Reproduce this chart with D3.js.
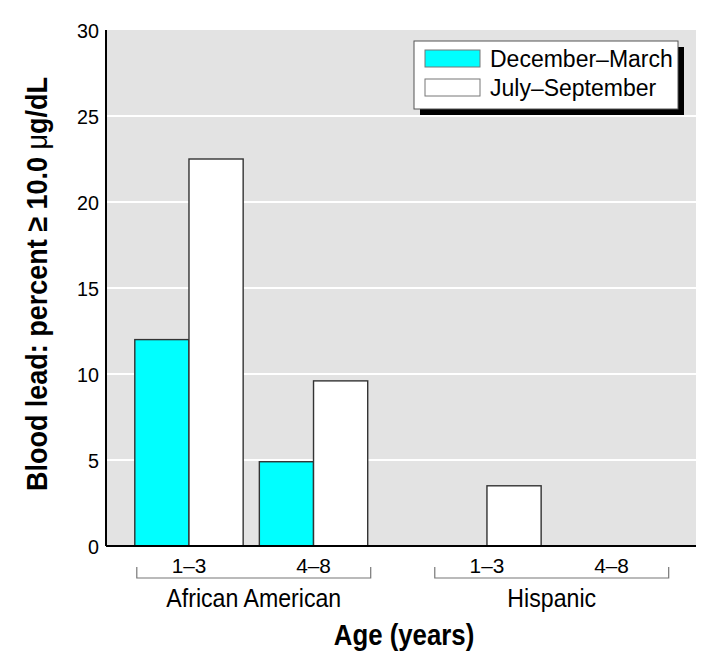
<!DOCTYPE html>
<html>
<head>
<meta charset="utf-8">
<script src="https://cdn.jsdelivr.net/npm/d3@7"></script>
<style>
  body { margin: 0; background: #fff; }
  svg text { font-family: "Liberation Sans", Arial, sans-serif; fill: #000; }
</style>
</head>
<body>
<script>
// data
var groups = ['African American', 'Hispanic']
var ages = ['1–3', '4–8']
var series = ['December–March', 'July–September']
var decMar = [12, 4.9, 0, 0]   // AA 1-3, AA 4-8, Hisp 1-3, Hisp 4-8
var julSep = [22.5, 9.6, 3.5, 0]
var yTicks = [0, 5, 10, 15, 20, 25, 30]

var colors = ['#00ffff', '#ffffff']

var width = 720
var height = 664
var margin = { top: 30, right: 24, bottom: 118, left: 106 }
var innerW = width - margin.left - margin.right
var innerH = height - margin.top - margin.bottom

var svg = d3.select('body').append('svg')
  .attr('width', width)
  .attr('height', height)

var g = svg.append('g')
  .attr('transform', 'translate(' + margin.left + ',' + margin.top + ')')

// narrow type: text drawn at origin, then placed and squeezed sideways
function label (parent, x, y, txt, size, squeeze, anchor, rotate) {
  var t = parent.append('text')
    .attr('transform', 'translate(' + x + ',' + y + ')' + (rotate ? ' rotate(' + rotate + ')' : '') + ' scale(' + squeeze + ',1)')
    .attr('text-anchor', anchor || 'middle')
    .style('font-size', size + 'px')
  if (txt) t.text(txt)
  return t
}

// rows for the bars
var rows = []
groups.forEach(function (grp, gi) {
  ages.forEach(function (age, ai) {
    var k = gi * ages.length + ai
    rows.push({ group: grp, age: age, values: [decMar[k], julSep[k]] })
  })
})

var x0 = d3.scaleBand().domain(groups).range([0, innerW])
  .paddingInner(0.215).paddingOuter(0.0975).align(0.53)
var x1 = d3.scaleBand().domain(ages).range([-2, x0.bandwidth() - 3])
  .paddingInner(0.13)
var x2 = d3.scaleBand().domain(series).range([0, x1.bandwidth()])
var y = d3.scaleLinear().domain([0, 30]).range([innerH, 0])

// plot background
g.append('rect')
  .attr('width', innerW)
  .attr('height', innerH)
  .attr('fill', '#e3e3e3')

// white grid lines
g.selectAll('line.grid')
  .data(yTicks.filter(function (d) { return d > 0 && d < 30 }))
  .enter().append('line')
  .attr('class', 'grid')
  .attr('x1', 0)
  .attr('x2', innerW)
  .attr('y1', function (d) { return y(d) })
  .attr('y2', function (d) { return y(d) })
  .attr('stroke', '#fff')
  .attr('stroke-width', 2)

// bars
var cluster = g.selectAll('g.cluster')
  .data(rows)
  .enter().append('g')
  .attr('class', 'cluster')
  .attr('transform', function (d) { return 'translate(' + (x0(d.group) + x1(d.age)) + ',0)' })

cluster.selectAll('rect')
  .data(function (d) { return d.values.map(function (v, i) { return { key: series[i], value: v, i: i } }) })
  .enter().filter(function (d) { return d.value > 0 })
  .append('rect')
  .attr('x', function (d) { return x2(d.key) })
  .attr('y', function (d) { return y(d.value) })
  .attr('width', x2.bandwidth())
  .attr('height', function (d) { return innerH - y(d.value) })
  .attr('fill', function (d) { return colors[d.i] })
  .attr('stroke', '#333')
  .attr('stroke-width', 1.4)

// y tick labels
yTicks.forEach(function (d) {
  label(g, -7, y(d) + 7.5, String(d), 21, 0.94, 'end')
})

// axis lines
g.append('line')
  .attr('x1', 0).attr('x2', 0)
  .attr('y1', 0).attr('y2', innerH)
  .attr('stroke', '#000').attr('stroke-width', 2)
g.append('line')
  .attr('x1', 0).attr('x2', innerW)
  .attr('y1', innerH).attr('y2', innerH)
  .attr('stroke', '#000').attr('stroke-width', 2)

// age labels
rows.forEach(function (d) {
  label(g, x0(d.group) + x1(d.age) + x1.bandwidth() / 2, innerH + 27, d.age, 20, 1.04)
})

// group brackets
groups.forEach(function (grp) {
  var bx = x0(grp)
  var bw = x0.bandwidth()
  var by = innerH + 32
  g.append('path')
    .attr('d', 'M' + bx + ',' + (by - 11) + 'V' + by + 'H' + (bx + bw) + 'V' + (by - 11))
    .attr('fill', 'none')
    .attr('stroke', '#777')
    .attr('stroke-width', 1.2)
  label(g, bx + bw / 2, innerH + 61, grp, 26, 0.89)
})

// axis titles
label(svg, 404, 645, 'Age (years)', 30, 0.86).style('font-weight', 'bold')

var yt = label(svg, 47, 284, null, 30, 0.9, 'middle', -90).style('font-weight', 'bold')
yt.append('tspan').text('Blood lead: percent ≥ 10.0 ')
yt.append('tspan').style('font-weight', 'normal').text('μ')
yt.append('tspan').text('g/dL')

// legend
var lg = svg.append('g').attr('transform', 'translate(414,41)')
lg.append('rect')
  .attr('x', 6).attr('y', 6)
  .attr('width', 264).attr('height', 68)
  .attr('fill', '#000')
lg.append('rect')
  .attr('width', 264).attr('height', 68)
  .attr('fill', '#fff')
  .attr('stroke', '#555')
  .attr('stroke-width', 1)
series.forEach(function (s, i) {
  lg.append('rect')
    .attr('x', 11).attr('y', 9 + i * 29)
    .attr('width', 55).attr('height', 17)
    .attr('fill', colors[i])
    .attr('stroke', '#777')
  label(lg, 76, 26 + i * 29, s, 23, 1.0, 'start')
})
</script>
</body>
</html>
